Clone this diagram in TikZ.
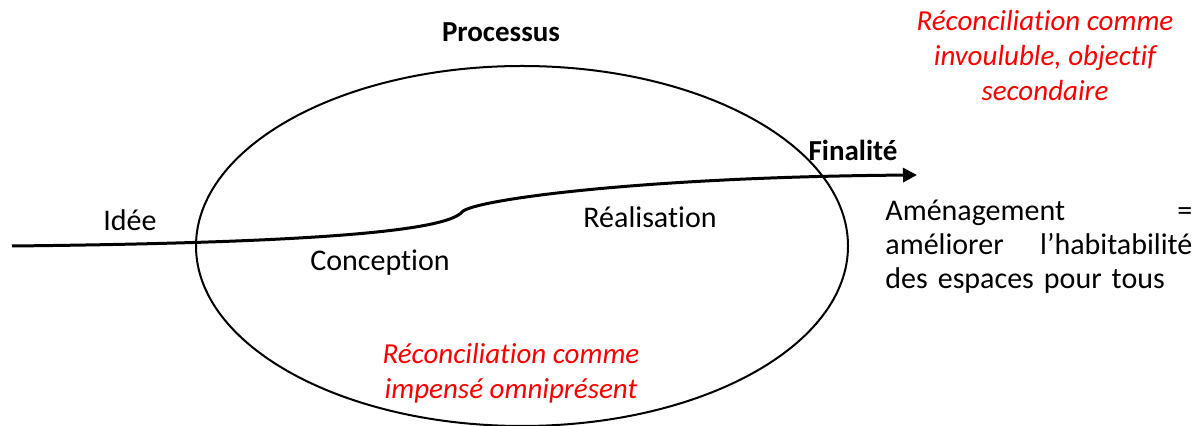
\documentclass[tikz,border=0pt]{standalone}
\usepackage{fontspec}
\setmainfont{Carlito}[Ligatures={TeX,NoCommon}]
\usepackage{xcolor}
\usetikzlibrary {arrows.meta,
                 positioning}
\definecolor{notered}{RGB}{255,0,0}
\tikzset{
        base/.style={inner sep=0pt, font=\fontsize{15}{17}\selectfont},
        lbl/.style={base},
        titre/.style={base, font=\fontsize{14.5}{17}\selectfont\bfseries},
        remarque/.style={base, align=center, text=notered,
                         font=\fontsize{14.5}{17.5}\selectfont\itshape},
        defn/.style={base, align=left, text width=153.5pt},
        myarrow/.style={-{Triangle[length=7pt, width=7pt]}, line width=1.5pt},
 }

\begin{document}
\begin{tikzpicture}[x=0.5pt, y=-0.5pt]
    \useasboundingbox (0,0) rectangle (1204,426);
    \draw[line width=1pt] (522,246) ellipse [x radius=326, y radius=180];

    \coordinate (debut) at (12,246);
    \coordinate (pli) at (462,212);
    \coordinate (fin) at (917,175);

    \node[titre] (proc) at (501,32) {Processus};
    \node[lbl] (idee) at (130,220) {Idée};
    \node[lbl] (conc) at (380,263) {Conception};
    \node[lbl] (real) at (650,217) {Réalisation};
    \node[titre] (fina) at (853,150) {Finalité};
    \node[defn, anchor=north west] (amen) at (885,200)
        {Aménagement\hfill=\\ améliorer\hfill l'habitabilité\\ des espaces pour tous};
    \node[remarque] (rem1) at (1045,56)
        {Réconciliation comme\\ invouluble, objectif\\ secondaire};
    \node[remarque] (rem2) at (511,373)
        {Réconciliation comme\\ impensé omniprésent};

    \draw[myarrow] (debut) .. controls (300,243) and (445,232) .. (pli)
        .. controls (472,200) and (640,177) .. (fin);
\end{tikzpicture}
\end{document}
